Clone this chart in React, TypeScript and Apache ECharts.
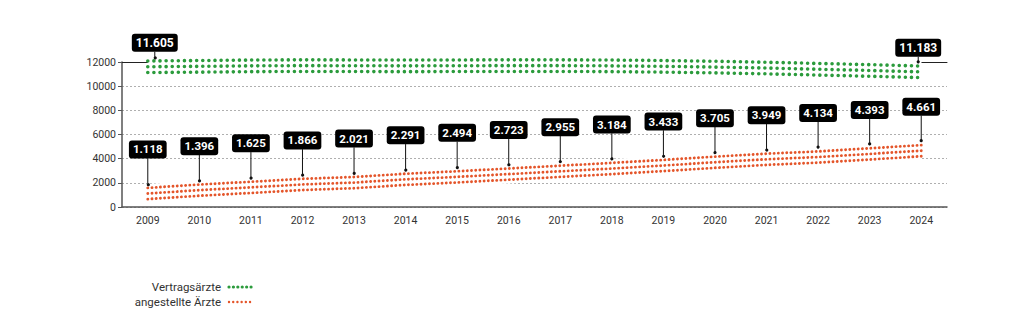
import React, { useEffect, useRef } from 'react';
import * as echarts from 'echarts';

const categories = ['2009', '2010', '2011', '2012', '2013', '2014', '2015', '2016', '2017', '2018', '2019', '2020', '2021', '2022', '2023', '2024'];
const vertragsaerzte = [11605, 11640, 11680, 11700, 11690, 11680, 11690, 11700, 11700, 11680, 11640, 11580, 11500, 11400, 11300, 11183];
const angestellteAerzte = [1118, 1396, 1625, 1866, 2021, 2291, 2494, 2723, 2955, 3184, 3433, 3705, 3949, 4134, 4393, 4661];
const greenLabelIdx = [0, 15];
const yMin = 0;
const yMax = 12000;
const yStep = 2000;

const GREEN = '#2b9b3c';
const ORANGE = '#e4552a';
const FONT = "Roboto, 'Noto Sans', sans-serif";

const fmt = (v: number) => String(v).replace(/\B(?=(\d{3})+(?!\d))/g, '.');

function bandSeries(values: number[], color: string, rowGap: number, dot: number, pitch: number, base: number) {
  return {
    type: 'custom',
    data: values.map((v, i) => [i, v]),
    encode: { x: 0, y: 1 },
    clip: false,
    z: 3,
    silent: true,
    renderItem: (params: any, api: any) => {
      if (params.dataIndex !== 0) return null;
      const pts = values.map((v, i) => api.coord([i, v]));
      const children: any[] = [
        { type: 'polyline', shape: { points: pts }, style: { stroke: '#fff', lineWidth: base, fill: null, lineJoin: 'round', lineCap: 'butt' } },
      ];
      [-rowGap, 0, rowGap].forEach((off) => {
        children.push({
          type: 'polyline',
          shape: { points: pts.map((p: number[]) => [p[0], p[1] + off]) },
          style: { stroke: color, lineWidth: dot, lineDash: [0.01, pitch], lineCap: 'round', fill: null },
        });
      });
      return { type: 'group', children };
    },
  };
}

function labelSeries(values: number[], show: (i: number) => boolean, dx: (i: number) => number, boxOffset: number, tipGap: number, fontSize: number) {
  return {
    type: 'custom',
    data: values.map((v, i) => [i, v]),
    encode: { x: 0, y: 1 },
    clip: false,
    z: 10,
    silent: true,
    renderItem: (params: any, api: any) => {
      const i = params.dataIndex;
      if (!show(i)) return null;
      const p = api.coord([i, values[i]]);
      const x = p[0] + dx(i);
      const cy = p[1] - boxOffset;
      const h = fontSize + 6;
      return {
        type: 'group',
        children: [
          { type: 'line', shape: { x1: x, y1: cy + h / 2, x2: x, y2: p[1] - tipGap }, style: { stroke: '#111', lineWidth: 1 } },
          { type: 'circle', shape: { cx: x, cy: p[1] - tipGap, r: 1.6 }, style: { fill: '#111' } },
          {
            type: 'text',
            x,
            y: cy,
            style: {
              text: fmt(values[i]),
              fill: '#fff',
              font: `bold ${fontSize}px ${FONT}`,
              align: 'center',
              verticalAlign: 'middle',
              backgroundColor: '#000',
              padding: [3, 4, 3, 4],
              borderRadius: 3,
            },
          },
        ],
      };
    },
  };
}

export default function App() {
  const ref = useRef<HTMLDivElement>(null);
  useEffect(() => {
    if (!ref.current) return;
    const chart = echarts.init(ref.current, undefined, { renderer: 'svg' });
    const option: any = {
      animation: false,
      backgroundColor: '#fff',
      grid: { left: 122, right: 77, top: 62, bottom: 127, containLabel: false },
      xAxis: [
        {
          type: 'category',
          data: categories,
          boundaryGap: true,
          axisLine: { lineStyle: { color: '#555', width: 1.5 } },
          axisTick: { alignWithLabel: true, length: 4, lineStyle: { color: '#555' } },
          axisLabel: { color: '#333', fontSize: 10.5, fontFamily: FONT, margin: 8 },
          splitLine: { show: false },
        },
        {
          type: 'category',
          data: categories,
          position: 'top',
          boundaryGap: true,
          axisLine: { lineStyle: { color: '#222', width: 1 } },
          axisTick: { show: false },
          axisLabel: { show: false },
          splitLine: { show: false },
        },
      ],
      yAxis: {
        type: 'value',
        min: yMin,
        max: yMax,
        interval: yStep,
        axisLine: { show: true, lineStyle: { color: '#555', width: 1.5 } },
        axisTick: { show: true, length: 4, lineStyle: { color: '#555' } },
        axisLabel: { color: '#333', fontSize: 10.5, fontFamily: FONT, margin: 6, formatter: (v: number) => String(v) },
        splitLine: { show: true, lineStyle: { color: '#9a9a9a', type: [2, 2], width: 0.8 } },
      },
      series: [
        bandSeries(vertragsaerzte, GREEN, 5.8, 3.6, 6.1, 22),
        bandSeries(angestellteAerzte, ORANGE, 5.6, 2.9, 4.2, 19),
        labelSeries(vertragsaerzte, (i) => greenLabelIdx.includes(i), (i) => (i === 0 ? 7 : -3), 24, 10, 12),
        labelSeries(angestellteAerzte, () => true, () => 0, 44, 10, 11.5),
      ],
      graphic: [
        { type: 'text', x: 221, y: 287, style: { text: 'Vertragsärzte', fill: '#333', font: `11.5px ${FONT}`, align: 'right', verticalAlign: 'middle' } },
        { type: 'line', shape: { x1: 229, y1: 287, x2: 252, y2: 287 }, style: { stroke: GREEN, lineWidth: 3.2, lineDash: [0.01, 4.4], lineCap: 'round' } },
        { type: 'text', x: 221, y: 302, style: { text: 'angestellte Ärzte', fill: '#333', font: `11.5px ${FONT}`, align: 'right', verticalAlign: 'middle' } },
        { type: 'line', shape: { x1: 229, y1: 302, x2: 251, y2: 302 }, style: { stroke: ORANGE, lineWidth: 2.4, lineDash: [0.01, 4.2], lineCap: 'round' } },
      ],
    };
    chart.setOption(option);
    return () => chart.dispose();
  }, []);
  return <div ref={ref} style={{ position: 'fixed', left: 0, top: 0, width: 1024, height: 334 }} />;
}
